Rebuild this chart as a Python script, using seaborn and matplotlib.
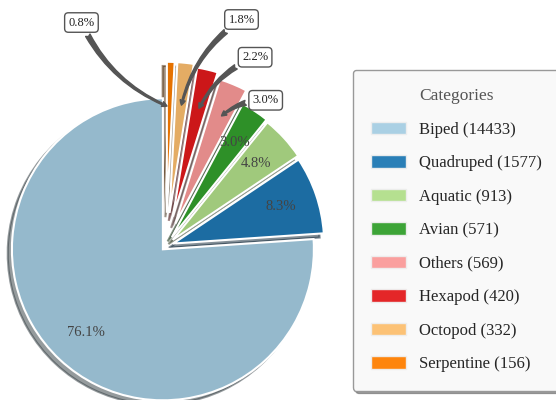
import numpy as np
import matplotlib.pyplot as plt
from matplotlib.patches import Patch
import seaborn as sns

sns.set_style("white")
plt.rcParams["font.family"] = ["Liberation Serif", "DejaVu Serif"]

# data
categories = ["Biped", "Quadruped", "Aquatic", "Avian", "Others", "Hexapod", "Octopod", "Serpentine"]
counts = [14433, 1577, 913, 571, 569, 420, 332, 156]
explode = [0.03, 0.05, 0.06, 0.07, 0.16, 0.2, 0.22, 0.22]

# callout box positions for the small slices (pie radius units)
callout_pos = {
    "Others": (0.66, 0.965),
    "Hexapod": (0.59, 1.25),
    "Octopod": (0.50, 1.50),
    "Serpentine": (-0.56, 1.48),
}

palette = sns.color_palette("Paired", 8)
pie_colors = [tuple(0.9 * np.array(c)) for c in palette]
total = sum(counts)

fig = plt.figure(figsize=(5.56, 4), dpi=100)
ax = fig.add_axes([0, 0, 1, 1])

wedges, texts, autotexts = ax.pie(
    counts, explode=explode, colors=pie_colors, startangle=90, shadow=True,
    autopct=lambda p: f"{p:.1f}%" if p >= 3 else "", pctdistance=0.75,
    wedgeprops=dict(edgecolor="white", linewidth=1.5),
    textprops=dict(fontsize=10.5, color="#444444"),
)

# annotate the small slices with arrows
for w, cat, n in zip(wedges, categories, counts):
    if cat not in callout_pos:
        continue
    ang = np.deg2rad((w.theta1 + w.theta2) / 2)
    xy = (0.92 * np.cos(ang), 0.92 * np.sin(ang))
    ax.annotate(
        f"{100 * n / total:.1f}%", xy=xy, xytext=callout_pos[cat],
        ha="center", va="center", fontsize=9, color="#222222",
        bbox=dict(boxstyle="round,pad=0.3", fc="white", ec="#555555", lw=1),
        arrowprops=dict(arrowstyle="fancy", color="#555555",
                        connectionstyle="arc3,rad=0.2"),
    )

# pie centre at (166, 246) px, radius 151 px
ax.set_xlim(-166 / 151, (556 - 166) / 151)
ax.set_ylim(-(400 - 246) / 151, 246 / 151)
ax.set_axis_off()

handles = [Patch(facecolor=c, edgecolor="#eeeeee", alpha=0.95) for c in palette]
leg = ax.legend(
    handles, [f"{c} ({n})" for c, n in zip(categories, counts)],
    title="Categories", loc="upper left",
    bbox_to_anchor=(353 / 556, 1 - 70 / 400), bbox_transform=fig.transFigure,
    borderaxespad=0, fontsize=12, title_fontsize=12.5,
    frameon=True, shadow=True, fancybox=True, framealpha=1,
    facecolor="#f9f9f9", edgecolor="#999999",
    borderpad=1.1, labelspacing=1.05, handlelength=2.1, handleheight=0.75,
    handletextpad=0.78,
)
leg.get_title().set_color("#555555")

fig.savefig("out.png", dpi=100)
